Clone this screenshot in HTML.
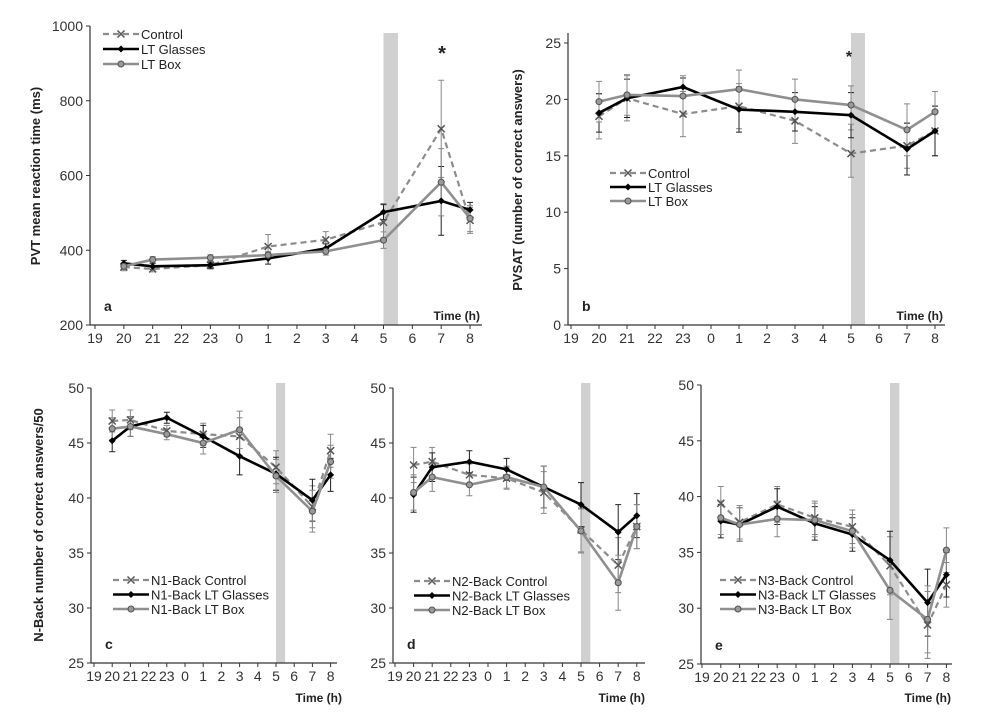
<!DOCTYPE html>
<html><head><meta charset="utf-8">
<style>
html,body{margin:0;padding:0;background:#fff;}
svg{display:block;font-family:"Liberation Sans",Arial,sans-serif;}
</style></head>
<body>
<svg id="fig" width="1000" height="728" viewBox="0 0 1000 728" xmlns="http://www.w3.org/2000/svg"></svg>
<script>
// shared categories
const hours = [20,21,23,1,3,5,7,8];
const tickLabels = ["19","20","21","22","23","0","1","2","3","4","5","6","7","8"];
const seriesNames = ["Control","LT Glasses","LT Box"];

// panel a (PVT ms)
const aControl = [355,350,360,410,428,475,725,480];
const aGlasses = [365,357,360,378,405,502,532,508];
const aBox     = [357,375,380,387,397,427,582,485];
const aErrC = [10,8,10,32,22,50,130,35];
const aErrG = [8,8,8,15,12,20,92,20];
const aErrB = [8,8,8,10,10,22,90,35];
const aYTicks = [200,400,600,800,1000];

// panel b (PVSAT)
const bControl = [18.5,20.1,18.7,19.4,18.1,15.2,15.9,17.2];
const bGlasses = [18.8,20.1,21.1,19.1,18.9,18.6,15.6,17.2];
const bBox     = [19.8,20.4,20.3,20.9,20.0,19.5,17.3,18.9];
const bErrC = [2,2,2,2,2,2.1,2,2.2];
const bErrG = [1.7,1.7,0.8,2,1.7,2,2.3,2.2];
const bErrB = [1.8,1.8,1.8,1.7,1.8,1.7,2.3,1.8];
const bYTicks = [0,5,10,15,20,25];

// panel c (N1)
const cControl = [47.0,47.1,46.1,45.8,45.6,42.8,39.2,44.3];
const cGlasses = [45.2,46.5,47.3,45.6,43.8,42.2,39.8,42.1];
const cBox     = [46.3,46.5,45.8,45.0,46.2,42.0,38.8,43.3];
const cErr = [1.0,0.9,0.5,1.0,1.7,1.5,1.9,1.5];
// panel d (N2)
const dControl = [43.0,43.3,42.1,41.8,40.5,37.1,33.9,37.4];
const dGlasses = [40.3,42.8,43.3,42.6,41.0,39.4,36.9,38.4];
const dBox     = [40.5,41.9,41.2,41.9,41.0,37.0,32.3,37.4];
const dErr = [1.6,1.3,1.0,1.0,1.9,2.0,2.5,2.0];
// panel e (N3)
const eControl = [39.4,37.7,39.3,38.1,37.3,33.8,28.5,32.1];
const eGlasses = [37.8,37.5,39.1,37.6,36.6,34.3,30.5,33.0];
const eBox     = [38.1,37.5,38.0,37.9,36.9,31.6,29.0,35.2];
const eErr = [1.5,1.5,1.6,1.5,1.5,2.6,3.0,2.0];
const nYTicks = [25,30,35,40,45,50];

const NS="http://www.w3.org/2000/svg";
const svg=document.getElementById('fig');
function mk(tag,attrs,parent){const e=document.createElementNS(NS,tag);for(const k in attrs)e.setAttribute(k,attrs[k]);(parent||svg).appendChild(e);return e;}
function txt(s,attrs,parent){const e=mk('text',attrs,parent);e.textContent=s;return e;}
function hIdx(h){return (h-19+24)%24;}

const CC="#8c8c8c", CG="#000", CB="#8f8f8f";

function marker(g,kind,x,y,col){
  if(kind==='x'){
    const p=mk('path',{d:`M${x-3.5} ${y-3.5}L${x+3.5} ${y+3.5}M${x-3.5} ${y+3.5}L${x+3.5} ${y-3.5}`,stroke:'#555','stroke-width':1.5,fill:'none'},g);
    
  } else if(kind==='d'){
    const p=mk('path',{d:`M${x} ${y-3.5}L${x+3.5} ${y}L${x} ${y+3.5}L${x-3.5} ${y}Z`,fill:'#000'},g);
    
  } else {
    const p=mk('circle',{cx:x,cy:y,r:3,fill:'#9a9a9a',stroke:'#555','stroke-width':1.1},g);
    
  }
}

function panel(o){
  const g=mk('g',{});
  
  
  const x0=o.x19, dx=o.dx;
  const X=i=>x0+i*dx;
  const Y=v=>o.yBot-(v-o.ymin)/(o.ymax-o.ymin)*(o.yBot-o.yTop);
  const band=mk('rect',{x:X(10),y:o.bandTop,width:dx*0.5,height:o.yBot-o.bandTop,fill:'#d0d0d0'},g);
  
  const ya=mk('line',{x1:o.axX,y1:o.yTopAxis,x2:o.axX,y2:o.yBot,stroke:'#333','stroke-width':1.2},g);
  
  const xa=mk('line',{x1:o.axX,y1:o.yBot,x2:o.axEnd,y2:o.yBot,stroke:'#333','stroke-width':1.2},g);
  
  o.yTicks.forEach(v=>{
    mk('line',{x1:o.axX-4,y1:Y(v),x2:o.axX,y2:Y(v),stroke:'#333'},g);
    const t=txt(String(v),{x:o.axX-7,y:Y(v)+5,'text-anchor':'end','font-size':o.fs,fill:'#333'},g);
    
  });
  tickLabels.forEach((s,i)=>{
    mk('line',{x1:X(i),y1:o.yBot,x2:X(i),y2:o.yBot+4,stroke:'#333'},g);
    const t=txt(s,{x:X(i),y:o.yBot+18,'text-anchor':'middle','font-size':o.fs,fill:'#333'},g);
    
  });
  const tt=txt('Time (h)',{x:o.timeX,y:o.timeY,'text-anchor':'end','font-size':12,'font-weight':'bold',fill:'#222'},g);
  
  const lt=txt(o.letter,{x:o.axX+14,y:o.yBot-14,'font-size':14,'font-weight':'bold',fill:'#222'},g);
  
  if(o.ytitle){
    const yt=txt(o.ytitle,{x:0,y:0,'text-anchor':'middle','font-size':13,'font-weight':'bold',fill:'#222',transform:`translate(${o.ytX},${o.ytY}) rotate(-90)`},g);
    
  }
  const ser=[
    {v:o.c,e:o.ec,col:CC,dash:'6,4',w:2.2,m:'x'},
    {v:o.gl,e:o.eg,col:CG,dash:'',w:2.6,m:'d'},
    {v:o.b,e:o.eb,col:CB,dash:'',w:2.6,m:'o'}];
  ser.forEach((s,si)=>{
    s.v.forEach((v,k)=>{
      const x=X(hIdx(hours[k]));
      const eb=mk('path',{d:`M${x} ${Y(v-s.e[k])}L${x} ${Y(v+s.e[k])}M${x-3} ${Y(v-s.e[k])}L${x+3} ${Y(v-s.e[k])}M${x-3} ${Y(v+s.e[k])}L${x+3} ${Y(v+s.e[k])}`,stroke:si===1?'#222':'#888','stroke-width':1,fill:'none'},g);
      
    });
  });
  ser.forEach((s,si)=>{
    const pts=s.v.map((v,k)=>X(hIdx(hours[k]))+','+Y(v)).join(' ');
    const pl=mk('polyline',{points:pts,fill:'none',stroke:s.col,'stroke-width':s.w,'stroke-dasharray':s.dash},g);
    
    
    s.v.forEach((v,k)=>marker(g,s.m,X(hIdx(hours[k])),Y(v),s.col));
  });
  const lg=mk('g',{},g);
  
  o.legNames.forEach((n,i)=>{
    const y=o.legY+i*o.legDy, x=o.legX;
    const s=ser[i];
    mk('line',{x1:x,y1:y,x2:x+36,y2:y,stroke:s.col,'stroke-width':s.w,'stroke-dasharray':s.dash},lg);
    marker(lg,s.m,x+18,y,s.col);
    const t=txt(n,{x:x+38,y:y+5,'font-size':o.legFs,fill:'#222'},lg);
    
  });
  if(o.star){
    const st=txt('*',{x:o.star[0],y:o.star[1],'text-anchor':'middle','font-size':o.star[2],'font-weight':'bold',fill:'#222'},g);
    
  }
}

panel({letter:'a',x19:95,dx:28.85,axX:90,axEnd:482,yTop:26,yTopAxis:26,yBot:325,bandTop:33,ymin:200,ymax:1000,yTicks:aYTicks,fs:14,
  c:aControl,gl:aGlasses,b:aBox,ec:aErrC,eg:aErrG,eb:aErrB,timeX:480,timeY:320,
  ytitle:'PVT mean reaction time (ms)',ytX:40,ytY:176,legNames:seriesNames,legX:103,legY:34,legDy:15,legFs:13,star:[442,60,20]});
panel({letter:'b',x19:571,dx:28,axX:568,axEnd:945,yTop:43,yTopAxis:33,yBot:325,bandTop:33,ymin:0,ymax:25,yTicks:bYTicks,fs:14,
  c:bControl,gl:bGlasses,b:bBox,ec:bErrC,eg:bErrG,eb:bErrB,timeX:943,timeY:320,
  ytitle:'PVSAT (number of correct answers)',ytX:522,ytY:180,legNames:seriesNames,legX:610,legY:173,legDy:14,legFs:13,star:[849,62,16]});
panel({letter:'c',x19:94,dx:18.2,axX:91,axEnd:337,yTop:388,yTopAxis:388,yBot:663,bandTop:383,ymin:25,ymax:50,yTicks:nYTicks,fs:14,
  c:cControl,gl:cGlasses,b:cBox,ec:cErr,eg:cErr,eb:cErr,timeX:342,timeY:702,
  ytitle:'N-Back number of correct answers/50',ytX:43,ytY:525,legNames:['N1-Back Control','N1-Back LT Glasses','N1-Back LT Box'],legX:113,legY:580,legDy:14.5,legFs:13});
panel({letter:'d',x19:395,dx:18.6,axX:393,axEnd:645,yTop:388,yTopAxis:388,yBot:663,bandTop:383,ymin:25,ymax:50,yTicks:nYTicks,fs:14,
  c:dControl,gl:dGlasses,b:dBox,ec:dErr,eg:dErr,eb:dErr,timeX:645,timeY:702,
  legNames:['N2-Back Control','N2-Back LT Glasses','N2-Back LT Box'],legX:414,legY:581,legDy:14.5,legFs:13});
panel({letter:'e',x19:702,dx:18.8,axX:701,axEnd:952,yTop:385,yTopAxis:385,yBot:664,bandTop:383,ymin:25,ymax:50,yTicks:nYTicks,fs:14,
  c:eControl,gl:eGlasses,b:eBox,ec:eErr,eg:eErr,eb:eErr,timeX:951,timeY:702,
  legNames:['N3-Back Control','N3-Back LT Glasses','N3-Back LT Box'],legX:720,legY:580,legDy:14.5,legFs:13});
</script>
</body></html>
